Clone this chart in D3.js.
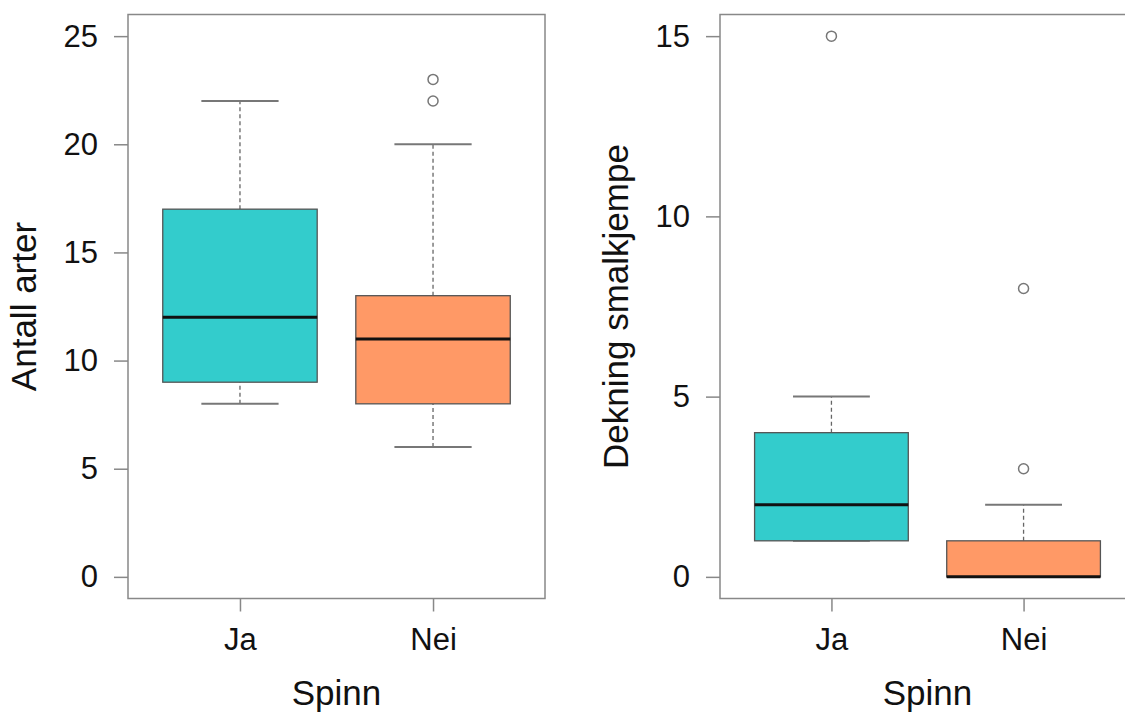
<!DOCTYPE html>
<html>
<head>
<meta charset="utf-8">
<script src="https://cdn.jsdelivr.net/npm/d3@7"></script>
<style>
  body { margin: 0; background: #fff; }
  svg { display: block; font-family: "Liberation Sans", Arial, sans-serif; }
</style>
</head>
<body>
<svg id="chart" width="1125" height="715"></svg>
<script>
// data: box stats are [lower whisker, q1, median, q3, upper whisker]
const categories = ["Ja", "Nei"];
const fills = ["#33cccc", "#ff9966"];

const arterBox = [[8, 9, 12, 17, 22], [6, 8, 11, 13, 20]];
const arterOutliers = [[], [22, 23]];
const arterTicks = [0, 5, 10, 15, 20, 25];

const dekningBox = [[1, 1, 2, 4, 5], [0, 0, 0, 1, 2]];
const dekningOutliers = [[15], [3, 8]];
const dekningTicks = [0, 5, 10, 15];

const svg = d3.select("#chart");
const plotTop = 14.5, plotBottom = 598.5;

function panel({ left, right, ymin, ymax, box, outliers, ticks, ylabel, ylabelX }) {
   const g = svg.append("g");

   // R style: xlim 0.5..n+0.5 extended by 4%
   const x = d3.scaleLinear().domain([0.42, 2.58]).range([left, right]);
   const pad = (ymax - ymin) * 0.04;
   const y = d3.scaleLinear().domain([ymin - pad, ymax + pad]).range([plotBottom, plotTop]);

   const boxW = 0.8, capW = 0.4;

   const groups = g.selectAll(".bx")
      .data(categories.map((c, i) => ({ c, i, s: box[i], out: outliers[i] })))
      .join("g")
      .attr("class", "bx");

   // whiskers (dashed)
   groups.append("line")
      .attr("x1", d => x(d.i + 1)).attr("x2", d => x(d.i + 1))
      .attr("y1", d => y(d.s[3])).attr("y2", d => y(d.s[4]))
      .attr("stroke", "#666").attr("stroke-width", 1.3)
      .attr("stroke-dasharray", "4,3");
   groups.append("line")
      .attr("x1", d => x(d.i + 1)).attr("x2", d => x(d.i + 1))
      .attr("y1", d => y(d.s[0])).attr("y2", d => y(d.s[1]))
      .attr("stroke", "#666").attr("stroke-width", 1.3)
      .attr("stroke-dasharray", "4,3");

   // staples
   [0, 4].forEach(k => {
      groups.append("line")
         .attr("x1", d => x(d.i + 1 - capW / 2)).attr("x2", d => x(d.i + 1 + capW / 2))
         .attr("y1", d => y(d.s[k])).attr("y2", d => y(d.s[k]))
         .attr("stroke", "#777").attr("stroke-width", 2);
   });

   // box
   groups.append("rect")
      .attr("x", d => x(d.i + 1 - boxW / 2))
      .attr("width", d => x(d.i + 1 + boxW / 2) - x(d.i + 1 - boxW / 2))
      .attr("y", d => y(d.s[3]))
      .attr("height", d => y(d.s[1]) - y(d.s[3]))
      .attr("fill", d => fills[d.i])
      .attr("stroke", "#555").attr("stroke-width", 1.3);

   // median
   groups.append("line")
      .attr("x1", d => x(d.i + 1 - boxW / 2)).attr("x2", d => x(d.i + 1 + boxW / 2))
      .attr("y1", d => y(d.s[2])).attr("y2", d => y(d.s[2]))
      .attr("stroke", "#111").attr("stroke-width", 3);

   // outliers
   groups.selectAll("circle")
      .data(d => d.out.map(v => ({ v, i: d.i })))
      .join("circle")
      .attr("cx", d => x(d.i + 1))
      .attr("cy", d => y(d.v))
      .attr("r", 5)
      .attr("fill", "none")
      .attr("stroke", "#777").attr("stroke-width", 1.5);

   // frame
   g.append("rect")
      .attr("x", left).attr("y", plotTop)
      .attr("width", right - left).attr("height", plotBottom - plotTop)
      .attr("fill", "none").attr("stroke", "#888").attr("stroke-width", 1.5);

   // y axis
   const ya = g.append("g")
      .attr("transform", `translate(${left},0)`)
      .call(d3.axisLeft(y).tickValues(ticks).tickSize(14).tickPadding(16).tickSizeOuter(0));
   ya.select(".domain").remove();
   ya.selectAll(".tick line").attr("stroke", "#888").attr("stroke-width", 1.5);
   ya.selectAll(".tick text").attr("font-size", 31).attr("fill", "#111")
      .attr("font-family", "Liberation Sans, Arial, sans-serif");

   // x axis
   const xa = g.append("g")
      .attr("transform", `translate(0,${plotBottom})`)
      .call(d3.axisBottom(x).tickValues([1, 2]).tickFormat(d => categories[d - 1])
         .tickSize(13).tickPadding(16).tickSizeOuter(0));
   xa.select(".domain").remove();
   xa.selectAll(".tick line").attr("stroke", "#888").attr("stroke-width", 1.5);
   xa.selectAll(".tick text").attr("font-size", 31).attr("fill", "#111")
      .attr("font-family", "Liberation Sans, Arial, sans-serif");

   // titles
   g.append("text")
      .attr("x", x(1.5)).attr("y", 705)
      .attr("text-anchor", "middle")
      .attr("font-size", 35).attr("fill", "#111")
      .text("Spinn");

   g.append("text")
      .attr("transform", `translate(${ylabelX},${(plotTop + plotBottom) / 2}) rotate(-90)`)
      .attr("text-anchor", "middle")
      .attr("font-size", 35).attr("fill", "#111")
      .text(ylabel);
}

panel({
   left: 128, right: 545, ymin: 0, ymax: 25,
   box: arterBox, outliers: arterOutliers, ticks: arterTicks,
   ylabel: "Antall arter", ylabelX: 36
});

panel({
   left: 720, right: 1135, ymin: 0, ymax: 15,
   box: dekningBox, outliers: dekningOutliers, ticks: dekningTicks,
   ylabel: "Dekning smalkjempe", ylabelX: 628
});
</script>
</body>
</html>
